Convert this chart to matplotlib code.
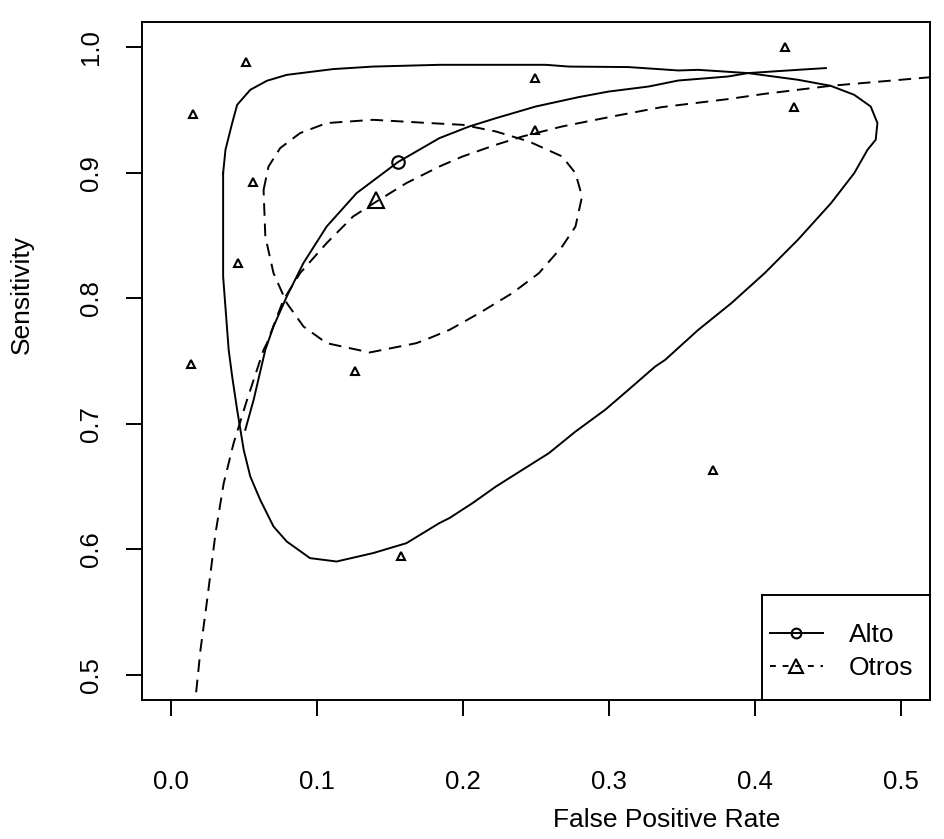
'''
SROC plot: Alto vs Otros, with confidence regions and study points.
'''

# Imports

import matplotlib
matplotlib.use("Agg")
import matplotlib.pyplot as plt
from matplotlib.lines import Line2D
from matplotlib.patches import Rectangle

plt.rcParams['font.family'] = ['Liberation Sans', 'DejaVu Sans']

# Data

x_ticks = [0.0, 0.1, 0.2, 0.3, 0.4, 0.5]
y_ticks = [0.5, 0.6, 0.7, 0.8, 0.9, 1.0]
group_names = ["Alto", "Otros"]

study_fpr = [0.0516, 0.0155, 0.0564, 0.0459, 0.0136, 0.1261,
             0.1575, 0.2493, 0.2493, 0.3715, 0.4208, 0.4272]
study_sens = [0.9885, 0.9469, 0.8925, 0.8280, 0.7478, 0.7422,
              0.5943, 0.9753, 0.9341, 0.6633, 1.0000, 0.9522]

alto_summary = (0.1559, 0.9084)
otros_summary = (0.1409, 0.8780)

alto_sroc_fpr = [0.0511, 0.0568, 0.0648, 0.0704, 0.0795, 0.0909, 0.1068,
                 0.1273, 0.1556, 0.1840, 0.2045, 0.2227, 0.2500, 0.2795,
                 0.2999, 0.3272, 0.3477, 0.3817, 0.3954, 0.4295, 0.4487]
alto_sroc_sens = [0.6952, 0.7191, 0.7589, 0.7775, 0.8014, 0.8280, 0.8571,
                  0.8837, 0.9084, 0.9275, 0.9368, 0.9434, 0.9527, 0.9602,
                  0.9646, 0.9686, 0.9734, 0.9766, 0.9793, 0.9819, 0.9833]

alto_region_fpr = [0.0359, 0.0375, 0.0421, 0.0455, 0.0545, 0.0659, 0.0795,
                   0.1113, 0.1386, 0.1840, 0.2570, 0.2727, 0.3136, 0.3477,
                   0.3613, 0.3954, 0.4295, 0.4519, 0.4681, 0.4794, 0.4840,
                   0.4828, 0.4772, 0.4681, 0.4522, 0.4295, 0.4068, 0.3840,
                   0.3613, 0.3386, 0.3318, 0.3136, 0.2977, 0.2772, 0.2590,
                   0.2408, 0.2227, 0.2067, 0.1909, 0.1840, 0.1614, 0.1386,
                   0.1136, 0.0954, 0.0795, 0.0704, 0.0613, 0.0545, 0.0500,
                   0.0455, 0.0421, 0.0397, 0.0359, 0.0359]
alto_region_sens = [0.8996, 0.9182, 0.9395, 0.9540, 0.9660, 0.9732, 0.9779,
                    0.9825, 0.9845, 0.9859, 0.9859, 0.9845, 0.9841, 0.9814,
                    0.9819, 0.9793, 0.9740, 0.9692, 0.9620, 0.9527, 0.9395,
                    0.9262, 0.9182, 0.8996, 0.8757, 0.8465, 0.8200, 0.7961,
                    0.7748, 0.7509, 0.7456, 0.7272, 0.7113, 0.6938, 0.6766,
                    0.6633, 0.6500, 0.6368, 0.6249, 0.6209, 0.6049, 0.5970,
                    0.5903, 0.5930, 0.6062, 0.6182, 0.6394, 0.6580, 0.6792,
                    0.7111, 0.7376, 0.7589, 0.8173, 0.8996]

otros_sroc_fpr = [0.0160, 0.0204, 0.0250, 0.0307, 0.0363, 0.0431, 0.0523,
                  0.0636, 0.0659, 0.0772, 0.0886, 0.1068, 0.1249, 0.1409,
                  0.1614, 0.1840, 0.1999, 0.2227, 0.2408, 0.2681, 0.3022,
                  0.3363, 0.3817, 0.4068, 0.4522, 0.5181, 0.5300]
otros_sroc_sens = [0.4700, 0.5199, 0.5601, 0.6129, 0.6527, 0.6846, 0.7191,
                   0.7589, 0.7642, 0.7987, 0.8200, 0.8439, 0.8651, 0.8770,
                   0.8917, 0.9049, 0.9129, 0.9222, 0.9288, 0.9368, 0.9447,
                   0.9522, 0.9586, 0.9628, 0.9692, 0.9758, 0.9770]

otros_region_fpr = [0.0636, 0.0670, 0.0750, 0.0886, 0.1068, 0.1386, 0.1772,
                    0.1999, 0.2227, 0.2454, 0.2681, 0.2772, 0.2817, 0.2772,
                    0.2681, 0.2522, 0.2340, 0.2113, 0.1909, 0.1772, 0.1682,
                    0.1363, 0.1068, 0.0909, 0.0795, 0.0704, 0.0648, 0.0636]
otros_region_sens = [0.8863, 0.9049, 0.9196, 0.9315, 0.9395, 0.9421, 0.9395,
                     0.9381, 0.9328, 0.9248, 0.9129, 0.8996, 0.8810, 0.8571,
                     0.8412, 0.8200, 0.8041, 0.7881, 0.7748, 0.7682, 0.7642,
                     0.7568, 0.7642, 0.7775, 0.7961, 0.8200, 0.8491, 0.8863]

# Plot

LW = 1.4
DASH = (0, (6.5, 4))

fig = plt.figure(figsize=(9.44, 8.39), dpi=100)
W, H = 944, 839
ax = fig.add_axes([141.5 / W, 1 - 700 / H, (930 - 141.5) / W, (700 - 22) / H])

ax.plot(alto_sroc_fpr, alto_sroc_sens, color="black", lw=LW)
ax.plot(alto_region_fpr, alto_region_sens, color="black", lw=LW)
ax.plot(otros_sroc_fpr, otros_sroc_sens, color="black", lw=LW, ls=DASH)
ax.plot(otros_region_fpr, otros_region_sens, color="black", lw=LW, ls=DASH)

ax.plot(study_fpr, study_sens, ls="none", marker="^", ms=6, mfc="none",
        mec="black", mew=1.5)
ax.plot(*alto_summary, ls="none", marker="o", ms=9, mfc="none",
        mec="black", mew=1.5)
ax.plot(*otros_summary, ls="none", marker="^", ms=12, mfc="none",
        mec="black", mew=1.5)

ax.set_xlim(-0.02, 0.52)
ax.set_ylim(0.48, 1.02)
ax.set_xticks(x_ticks)
ax.set_yticks(y_ticks)
ax.set_xticklabels([f"{v:.1f}" for v in x_ticks])
ax.set_yticklabels([f"{v:.1f}" for v in y_ticks])

for s in ax.spines.values():
    s.set_linewidth(LW)
ax.tick_params(axis="both", direction="out", length=11.5, width=LW,
               labelsize=18.5)
ax.tick_params(axis="x", pad=39)
ax.tick_params(axis="y", pad=16, labelrotation=90)
for lab in ax.get_yticklabels():
    lab.set_va("center")

fig.text(667 / W, 1 - 820 / H, "False Positive Rate", fontsize=19,
         ha="center", va="center")
fig.text(22 / W, 1 - 294 / H, "Sensitivity", fontsize=19, rotation=90,
         ha="center", va="center")

# legend: frame drawn as a box in the lower right corner, entries inside
axw, axh = 930 - 141.5, 700 - 22
ax.add_patch(Rectangle(((762 - 141.5) / axw, 0), (930 - 762) / axw,
                       105 / axh, transform=ax.transAxes, fill=False,
                       ec="black", lw=LW, zorder=5, clip_on=False))
handles = [
    Line2D([], [], color="black", lw=LW, marker="o", ms=7, mfc="none",
           mew=1.5),
    Line2D([], [], color="black", lw=LW, ls=(0, (3, 3.5)), marker="^", ms=10,
           mfc="none", mew=1.5),
]
leg = ax.legend(handles, group_names, loc="center left",
                bbox_to_anchor=((770 - 141.5) / axw, (700 - 651.5) / axh),
                borderaxespad=0, borderpad=0, frameon=False, fontsize=19,
                handlelength=2.0, handletextpad=1.0, labelspacing=0.34)

fig.savefig("out.png", dpi=100)
